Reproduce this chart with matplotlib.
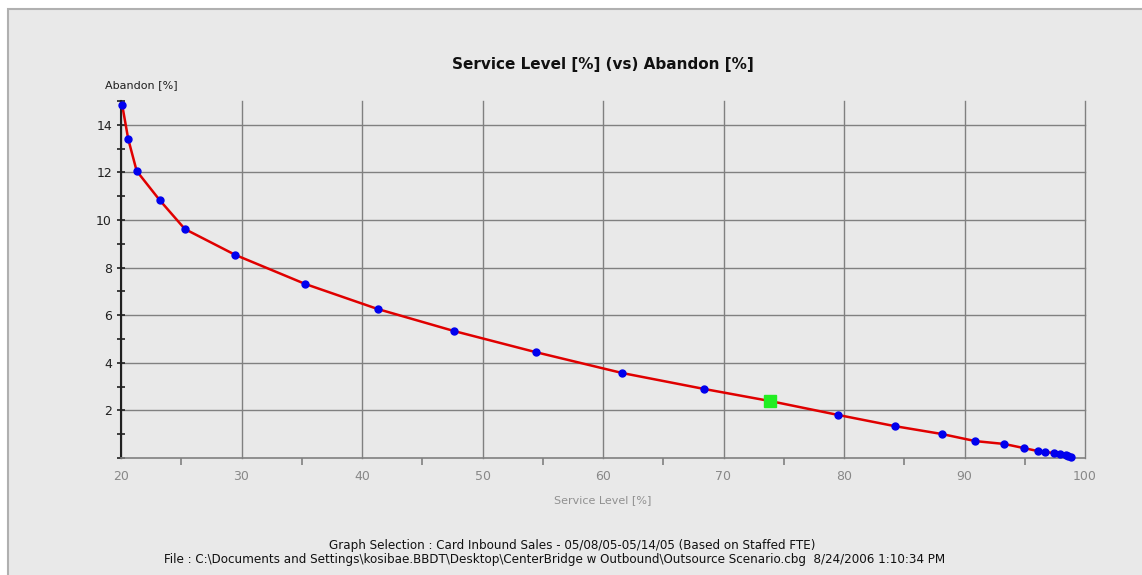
import matplotlib.pyplot as plt
from matplotlib.patches import Rectangle
from matplotlib.ticker import MultipleLocator

# Service level vs abandon curve
service_level = [20.1, 20.6, 21.3, 23.2, 25.3, 29.5, 35.3, 41.3, 47.6, 54.4,
                 61.6, 68.4, 79.5, 84.2, 88.1, 90.9, 93.3, 94.9, 96.1, 96.7,
                 97.4, 97.9, 98.4, 98.6, 98.8]
abandon = [14.83, 13.40, 12.06, 10.84, 9.62, 8.53, 7.31, 6.26, 5.34, 4.45,
           3.57, 2.90, 1.81, 1.34, 1.01, 0.71, 0.59, 0.42, 0.29, 0.25,
           0.21, 0.17, 0.13, 0.08, 0.04]
current_sl = [73.9]
current_ab = [2.39]

x_ticks = [20, 30, 40, 50, 60, 70, 80, 90, 100]
y_ticks = [2, 4, 6, 8, 10, 12, 14]

bg = '#e9e9e9'
fig = plt.figure(figsize=(11.42, 5.75), dpi=100)
fig.patch.set_facecolor('white')
fig.patches.append(Rectangle((8 / 1142, -0.1), 1.1, 1.1 - 9 / 575, transform=fig.transFigure,
                             facecolor=bg, edgecolor='#b0b0b0', linewidth=1.5, zorder=-5))

ax = fig.add_axes([121 / 1142, 117 / 575, 964 / 1142, 357 / 575])
ax.set_facecolor(bg)

# red curve with blue points, green square for current scenario
ax.plot(service_level[:12] + current_sl + service_level[12:],
        abandon[:12] + current_ab + abandon[12:],
        color='#e00000', linewidth=1.8, zorder=3, clip_on=False)
ax.plot(service_level, abandon, 'o', color='#0000ee', markersize=5, zorder=4, clip_on=False)
ax.plot(current_sl, current_ab, 's', color='#22ee22', markersize=8, zorder=5)

ax.set_xlim(20, 100)
ax.set_ylim(0, 15)
ax.set_xticks(x_ticks)
ax.set_yticks(y_ticks)
ax.xaxis.set_minor_locator(MultipleLocator(5))
ax.yaxis.set_minor_locator(MultipleLocator(1))
ax.grid(True, which='major', color='#808080', linewidth=1.0)
ax.set_axisbelow(True)
for gl in ax.get_xgridlines() + ax.get_ygridlines():
    gl.set_clip_on(False)

for s in ['top', 'right']:
    ax.spines[s].set_visible(False)
ax.spines['left'].set_color('#202020')
ax.spines['left'].set_linewidth(1.5)
ax.spines['bottom'].set_color('#808080')
ax.spines['bottom'].set_linewidth(1.2)

ax.tick_params(axis='y', which='both', direction='inout', colors='#202020',
               labelsize=9, length=6, width=1.2)
ax.tick_params(axis='x', which='both', direction='out', colors='#808080',
               labelcolor='#888888', labelsize=9, length=5, width=1.2)
ax.tick_params(axis='x', which='major', length=0, pad=9)

fig.text(603 / 1142, 1 - 65 / 575, 'Service Level [%] (vs) Abandon [%]',
         ha='center', va='center', fontsize=11, fontweight='bold', color='#111111')
fig.text(105 / 1142, 1 - 85 / 575, 'Abandon [%]', ha='left', va='center',
         fontsize=8, color='#202020')
fig.text(603 / 1142, 1 - 500 / 575, 'Service Level [%]', ha='center', va='center',
         fontsize=8, color='#909090')

fig.text(572 / 1142, 1 - 545 / 575,
         'Graph Selection : Card Inbound Sales - 05/08/05-05/14/05 (Based on Staffed FTE)',
         ha='center', va='center', fontsize=9.5, family='DejaVu Sans',
         fontstretch='condensed', color='#111111')
fig.text(555 / 1142, 1 - 560 / 575,
         'File : C:\\Documents and Settings\\kosibae.BBDT\\Desktop\\CenterBridge w Outbound\\Outsource Scenario.cbg  8/24/2006 1:10:34 PM',
         ha='center', va='center', fontsize=9.5, family='DejaVu Sans',
         fontstretch='condensed', color='#111111')

fig.savefig('out.png', dpi=100, facecolor=fig.get_facecolor())
